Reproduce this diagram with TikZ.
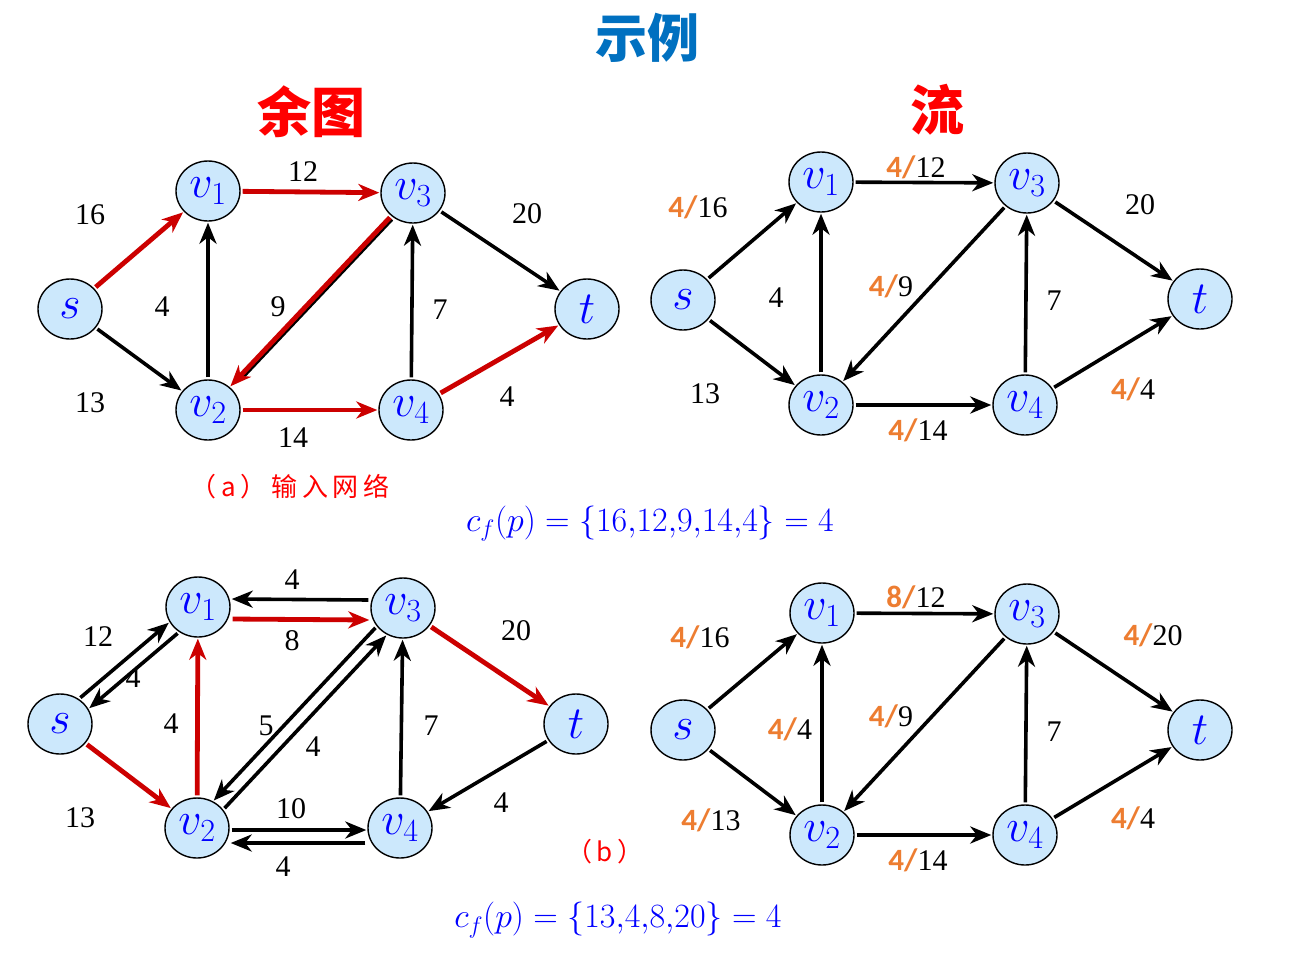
\RequirePackage{fix-cm}
\documentclass[tikz,border=0pt]{standalone}
\usepackage{fontspec}
\setmainfont{Liberation Serif}
\newfontfamily\cjk{Noto Sans CJK SC}
\newfontfamily\cjkcap[LetterSpace=18]{Noto Sans CJK SC}
\newfontfamily\lab{Carlito}
\usetikzlibrary{arrows.meta,calc,shapes.geometric}
\definecolor{nodefill}{RGB}{204,232,252}
\definecolor{vblue}{RGB}{0,0,255}
\definecolor{tblue}{RGB}{0,112,192}
\definecolor{ered}{RGB}{204,0,0}
\definecolor{hred}{RGB}{255,0,0}
\definecolor{flo}{RGB}{237,125,49}
\newcommand{\fl}[2]{{\lab\bfseries\fontsize{31}{31}\selectfont\textcolor{flo}{#1/}}#2}
\begin{document}
\begin{tikzpicture}[x=1pt,y=-1pt,
  vtx/.style={ellipse, draw=black, line width=1.4pt, fill=nodefill, minimum width=64pt, minimum height=60pt, inner sep=0pt, text=vblue, font=\fontsize{46}{46}\selectfont},
  e/.style={draw=black, line width=3.6pt, -{Stealth[length=21pt,width=17pt,inset=6.5pt]}, shorten <=2pt, shorten >=1pt},
  re/.style={e, draw=ered, line width=4.8pt},
  wt/.style={font=\fontsize{30}{30}\selectfont, inner sep=0pt},
  hd/.style={text=hred, font=\cjk\bfseries\fontsize{54}{54}\selectfont},
  fm/.style={text=vblue, font=\fontsize{34}{34}\selectfont},
  captxt/.style={text=hred, font=\cjkcap\fontsize{26}{26}\selectfont}
]
\useasboundingbox[fill=white] (0,0) rectangle (1292,956);

% titles
\node[text=tblue, font=\cjk\bfseries\fontsize{52}{52}\selectfont] (title) at (647,38) {示例};
\node[hd] (h1) at (311,112) {余图};
\node[hd] (h2) at (937,110) {流};

% ---------- Graph A: residual (top left)
\node[vtx] (as) at (70,309) {$s$};
\node[vtx] (av1) at (208,191) {$v_1$};
\node[vtx] (av3) at (413,193) {$v_3$};
\node[vtx] (at) at (587,309) {$t$};
\node[vtx] (av2) at (208,410) {$v_2$};
\node[vtx] (av4) at (411,410) {$v_4$};
\draw[re] (as) -- (av1);
\draw[e] (as) -- (av2);
\draw[re] (av1) -- (av3);
\draw[e] (av2) -- (av1);
\draw[line width=2.8pt, shorten <=2pt, shorten >=14pt, transform canvas={xshift=2.2pt,yshift=-2.2pt}] (av3) -- (av2);
\draw[re] (av3) -- (av2);
\draw[e] (av4) -- (av3);
\draw[e] (av3) -- (at);
\draw[re] (av2) -- (av4);
\draw[re] (av4) -- (at);
\node[wt] (aw1) at (90,215) {16};
\node[wt] (aw2) at (90,403) {13};
\node[wt] (aw3) at (303,172) {12};
\node[wt] (aw4) at (162,307) {4};
\node[wt] (aw5) at (278,307) {9};
\node[wt] (aw6) at (440,310) {7};
\node[wt] (aw7) at (527,214) {20};
\node[wt] (aw8) at (293,438) {14};
\node[wt] (aw9) at (507,397) {4};
\node[captxt] (capa) at (290,487) {（a）输入网络};

% ---------- Graph B: flow (top right)
\node[vtx] (bs) at (683,300) {$s$};
\node[vtx] (bv1) at (821,182) {$v_1$};
\node[vtx] (bv3) at (1027,183) {$v_3$};
\node[vtx] (bt) at (1200,299) {$t$};
\node[vtx] (bv2) at (821,405) {$v_2$};
\node[vtx] (bv4) at (1025,405) {$v_4$};
\draw[e] (bs) -- (bv1);
\draw[e] (bs) -- (bv2);
\draw[e] (bv1) -- (bv3);
\draw[e] (bv2) -- (bv1);
\draw[e] (bv3) -- (bv2);
\draw[e] (bv4) -- (bv3);
\draw[e] (bv3) -- (bt);
\draw[e] (bv2) -- (bv4);
\draw[e] (bv4) -- (bt);
\node[wt] (bw1) at (698,207) {\fl{4}{16}};
\node[wt] (bw2) at (705,394) {13};
\node[wt] (bw3) at (916,167) {\fl{4}{12}};
\node[wt] (bw4) at (776,298) {4};
\node[wt] (bw5) at (891,286) {\fl{4}{9}};
\node[wt] (bw6) at (1054,301) {7};
\node[wt] (bw7) at (1140,205) {20};
\node[wt] (bw8) at (918,430) {\fl{4}{14}};
\node[wt] (bw9) at (1133,389) {\fl{4}{4}};

\node[fm] (f1) at (650,524) {$c_f(p)=\{16{,}12{,}9{,}14{,}4\}=4$};

% ---------- Graph C: residual (bottom left)
\node[vtx] (cs) at (60,724) {$s$};
\node[vtx] (cv1) at (198,607) {$v_1$};
\node[vtx] (cv3) at (403,608) {$v_3$};
\node[vtx] (ct) at (576,724) {$t$};
\node[vtx] (cv2) at (197,828) {$v_2$};
\node[vtx] (cv4) at (400,828) {$v_4$};
\draw[e] (cs.53) -- (cv1.208);
\draw[e] (cv1.233) -- (cs.28);
\draw[re] (cs) -- (cv2);
\draw[e] ($(cv3.west)+(0,-8)$) -- ($(cv1.east)+(0,-8)$);
\draw[re] ($(cv1.east)+(0,12)$) -- ($(cv3.west)+(0,12)$);
\draw[re] (cv2) -- (cv1);
\draw[e] (cv3.215) -- (cv2.59);
\draw[e] (cv2.35) -- (cv3.239);
\draw[e] (cv4) -- (cv3);
\draw[re] (cv3) -- (ct);
\draw[e] (ct) -- (cv4);
\draw[e] ($(cv2.east)+(0,2)$) -- ($(cv4.west)+(0,2)$);
\draw[e] ($(cv4.west)+(0,15)$) -- ($(cv2.east)+(0,15)$);
\node[wt] (cw1) at (98,637) {12};
\node[wt] (cw2) at (133,678) {4};
\node[wt] (cw3) at (292,580) {4};
\node[wt] (cw4) at (292,641) {8};
\node[wt] (cw5) at (171,724) {4};
\node[wt] (cw6) at (266,726) {5};
\node[wt] (cw7) at (313,747) {4};
\node[wt] (cw8) at (431,726) {7};
\node[wt] (cw9) at (516,631) {20};
\node[wt] (cw10) at (501,803) {4};
\node[wt] (cw11) at (291,809) {10};
\node[wt] (cw12) at (283,867) {4};
\node[wt] (cw13) at (80,818) {13};
\node[captxt] (capb) at (605,852) {（b）};

% ---------- Graph D: flow (bottom right)
\node[vtx] (ds) at (683,730) {$s$};
\node[vtx] (dv1) at (822,613) {$v_1$};
\node[vtx] (dv3) at (1027,614) {$v_3$};
\node[vtx] (dt) at (1200,730) {$t$};
\node[vtx] (dv2) at (822,835) {$v_2$};
\node[vtx] (dv4) at (1025,835) {$v_4$};
\draw[e] (ds) -- (dv1);
\draw[e] (ds) -- (dv2);
\draw[e] (dv1) -- (dv3);
\draw[e] (dv2) -- (dv1);
\draw[e] (dv3) -- (dv2);
\draw[e] (dv4) -- (dv3);
\draw[e] (dv3) -- (dt);
\draw[e] (dv2) -- (dv4);
\draw[e] (dv4) -- (dt);
\node[wt] (dw1) at (700,637) {\fl{4}{16}};
\node[wt] (dw2) at (711,820) {\fl{4}{13}};
\node[wt] (dw3) at (916,597) {\fl{8}{12}};
\node[wt] (dw4) at (790,729) {\fl{4}{4}};
\node[wt] (dw5) at (891,716) {\fl{4}{9}};
\node[wt] (dw6) at (1054,732) {7};
\node[wt] (dw7) at (1153,635) {\fl{4}{20}};
\node[wt] (dw8) at (918,860) {\fl{4}{14}};
\node[wt] (dw9) at (1133,818) {\fl{4}{4}};

\node[fm] (f2) at (618,920) {$c_f(p)=\{13{,}4{,}8{,}20\}=4$};
\end{tikzpicture}
\end{document}
